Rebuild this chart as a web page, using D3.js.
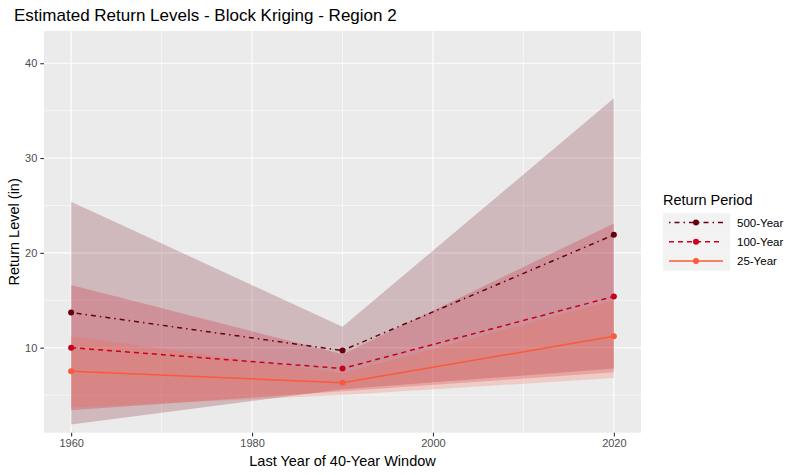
<!DOCTYPE html>
<meta charset="utf-8">
<script src="https://cdn.jsdelivr.net/npm/d3@7"></script>
<style>
  body { margin: 0; background: #fff; }
  text { font-family: "Liberation Sans", Arial, sans-serif; }
</style>
<body>
<script>

var width = 800
var height = 475

// values
var years = [1960, 1990, 2020]
var periods = ["500-Year", "100-Year", "25-Year"]
var rl500 = [13.7, 9.7, 21.9]
var lo500 = [1.9, 5.6, 7.8]
var hi500 = [25.4, 12.2, 36.3]
var rl100 = [10.0, 7.8, 15.4]
var lo100 = [3.4, 5.4, 7.4]
var hi100 = [16.6, 9.3, 23.1]
var rl25 = [7.5, 6.3, 11.2]
var lo25 = [3.7, 5.0, 6.8]
var hi25 = [11.2, 7.3, 15.0]
var xTicks = [1960, 1980, 2000, 2020]
var xMinor = [1970, 1990, 2010]
var yTicks = [10, 20, 30, 40]
var yMinor = [5, 15, 25, 35]

var colors = ["#67000d", "#cb001d", "#fb5a3a"]
var dashes = ["1.5 4 5 4", "5 4", null]

var series = [
  { name: periods[0], rl: rl500, lo: lo500, hi: hi500 },
  { name: periods[1], rl: rl100, lo: lo100, hi: hi100 },
  { name: periods[2], rl: rl25, lo: lo25, hi: hi25 }
]

var panel = { left: 44, right: 641, top: 31, bottom: 432.7 }

var x = d3.scaleLinear().domain([1957, 2023]).range([panel.left, panel.right])
var y = d3.scaleLinear().domain([1.03, 43.4]).range([panel.bottom, panel.top])

var svg = d3.select("body").append("svg")
            .attr("width", width)
            .attr("height", height)

svg.append("rect")
   .attr("x", panel.left).attr("y", panel.top)
   .attr("width", panel.right - panel.left).attr("height", panel.bottom - panel.top)
   .attr("fill", "#ebebeb")

svg.append("clipPath").attr("id", "clip")
   .append("rect")
   .attr("x", panel.left).attr("y", panel.top)
   .attr("width", panel.right - panel.left).attr("height", panel.bottom - panel.top)

var grid = svg.append("g").attr("stroke", "#fff")
grid.selectAll(".ymin").data(yMinor).enter().append("line")
    .attr("x1", panel.left).attr("x2", panel.right)
    .attr("y1", d => y(d)).attr("y2", d => y(d)).attr("stroke-width", 0.55)
grid.selectAll(".xmin").data(xMinor).enter().append("line")
    .attr("y1", panel.top).attr("y2", panel.bottom)
    .attr("x1", d => x(d)).attr("x2", d => x(d)).attr("stroke-width", 0.55)
grid.selectAll(".ymaj").data(yTicks).enter().append("line")
    .attr("x1", panel.left).attr("x2", panel.right)
    .attr("y1", d => y(d)).attr("y2", d => y(d)).attr("stroke-width", 1.1)
grid.selectAll(".xmaj").data(xTicks).enter().append("line")
    .attr("y1", panel.top).attr("y2", panel.bottom)
    .attr("x1", d => x(d)).attr("x2", d => x(d)).attr("stroke-width", 1.1)

var plot = svg.append("g").attr("clip-path", "url(#clip)")

var area = d3.area()
  .x((d, i) => x(years[i]))
  .y0(d => y(d[0]))
  .y1(d => y(d[1]))

series.forEach(function(s, k) {
  plot.append("path")
      .attr("d", area(years.map((yr, i) => [s.lo[i], s.hi[i]])))
      .attr("fill", colors[k])
      .attr("fill-opacity", 0.21)
})

var line = d3.line().x((d, i) => x(years[i])).y(d => y(d))

series.forEach(function(s, k) {
  plot.append("path")
      .attr("d", line(s.rl))
      .attr("fill", "none")
      .attr("stroke", colors[k])
      .attr("stroke-width", 1.5)
      .attr("stroke-dasharray", dashes[k])
  plot.selectAll(".pt" + k).data(s.rl).enter().append("circle")
      .attr("cx", (d, i) => x(years[i]))
      .attr("cy", d => y(d))
      .attr("r", 3)
      .attr("fill", colors[k])
})

// axes
var xAxis = svg.append("g")
    .attr("transform", "translate(0," + panel.bottom + ")")
    .call(d3.axisBottom(x).tickValues(xTicks).tickFormat(d3.format("d")).tickSize(3.7).tickPadding(3))
var yAxis = svg.append("g")
    .attr("transform", "translate(" + panel.left + ",0)")
    .call(d3.axisLeft(y).tickValues(yTicks).tickSize(3.7).tickPadding(3))

;[xAxis, yAxis].forEach(function(a) {
  a.select(".domain").remove()
  a.selectAll(".tick line").attr("stroke", "#333").attr("stroke-width", 1.1)
  a.selectAll(".tick text").attr("fill", "#4d4d4d").style("font-size", "11px")
      .style("font-family", "'Liberation Sans', Arial, sans-serif")
})

svg.append("text")
   .attr("x", (panel.left + panel.right) / 2)
   .attr("y", 466)
   .attr("text-anchor", "middle")
   .style("font-size", "14.5px")
   .text("Last Year of 40-Year Window")

svg.append("text")
   .attr("transform", "translate(19," + ((panel.top + panel.bottom) / 2) + ") rotate(-90)")
   .attr("text-anchor", "middle")
   .style("font-size", "14.5px")
   .text("Return Level (in)")

svg.append("text")
   .attr("x", panel.left - 30)
   .attr("y", 21)
   .style("font-size", "17px")
   .text("Estimated Return Levels - Block Kriging - Region 2")

// legend
var legend = svg.append("g").attr("transform", "translate(663,0)")
legend.append("text")
      .attr("x", 0).attr("y", 205)
      .style("font-size", "14.5px")
      .text("Return Period")

var keyH = 19.2
var keys = legend.selectAll(".key").data(series).enter().append("g")
    .attr("transform", (d, i) => "translate(0," + (213 + i * keyH) + ")")
keys.append("rect")
    .attr("width", 67).attr("height", keyH)
    .attr("fill", "#f2f2f2")
keys.append("line")
    .attr("x1", 6).attr("x2", 60)
    .attr("y1", keyH / 2).attr("y2", keyH / 2)
    .attr("stroke", (d, i) => colors[i])
    .attr("stroke-width", 1.5)
    .attr("stroke-dasharray", (d, i) => dashes[i])
keys.append("circle")
    .attr("cx", 33).attr("cy", keyH / 2).attr("r", 3)
    .attr("fill", (d, i) => colors[i])
keys.append("text")
    .attr("x", 74).attr("y", keyH / 2)
    .attr("dy", "0.35em")
    .style("font-size", "11.5px")
    .text(d => d.name)

</script>
</body>
